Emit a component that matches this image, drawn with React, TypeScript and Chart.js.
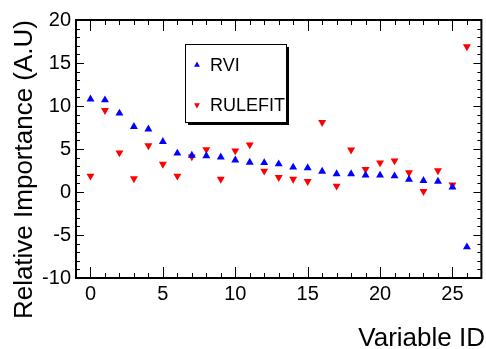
import React, { useEffect, useRef } from "react";
import { Chart, registerables } from "chart.js";

Chart.register(...registerables);

const variableIds = [0, 1, 2, 3, 4, 5, 6, 7, 8, 9, 10, 11, 12, 13, 14, 15, 16, 17, 18, 19, 20, 21, 22, 23, 24, 25, 26];
const rviValues = [10.8, 10.7, 9.15, 7.6, 7.3, 5.85, 4.5, 4.25, 4.2, 4.05, 3.7, 3.45, 3.4, 3.25, 2.87, 2.8, 2.4, 2.1, 2.1, 1.94, 1.94, 1.86, 1.47, 1.32, 1.24, 0.55, -6.4];
const rulefitValues = [1.86, 9.5, 4.57, 1.55, 5.4, 3.25, 1.86, 4.1, 4.95, 1.5, 4.8, 5.5, 2.45, 1.7, 1.5, 1.24, 8.1, 0.7, 4.9, 2.63, 3.4, 3.64, 2.25, 0.08, 2.48, 0.85, 16.9];
const seriesLabels = ["RVI", "RULEFIT"];
const xTitle = "Variable ID";
const yTitle = "Relative Importance (A.U)";
const xRange = [-1, 27];
const yRange = [-10, 20];

const FONT = "'Liberation Sans', Arial, Helvetica, sans-serif";

const rootStyle: any = {
  id: "rootStyle",
  afterDraw(chart: any) {
    const ctx = chart.ctx;
    const a = chart.chartArea;
    const xs = chart.scales.x;
    const ys = chart.scales.y;
    ctx.save();
    ctx.strokeStyle = "#000";
    // ticks
    ctx.lineWidth = 1;
    ctx.beginPath();
    for (let v = Math.ceil(xRange[0]) + 1; v < xRange[1]; v++) {
      const px = Math.round(xs.getPixelForValue(v)) + 0.5;
      const len = v % 5 === 0 ? 11 : 5;
      ctx.moveTo(px, a.bottom);
      ctx.lineTo(px, a.bottom - len);
      ctx.moveTo(px, a.top);
      ctx.lineTo(px, a.top + len);
    }
    for (let v = yRange[0] + 1; v < yRange[1]; v++) {
      const py = Math.round(ys.getPixelForValue(v)) + 0.5;
      const len = v % 5 === 0 ? 8 : 4;
      ctx.moveTo(a.left, py);
      ctx.lineTo(a.left + len, py);
      ctx.moveTo(a.right, py);
      ctx.lineTo(a.right - len, py);
    }
    ctx.stroke();
    // frame
    ctx.lineWidth = 2;
    ctx.strokeRect(a.left, a.top, a.right - a.left, a.bottom - a.top);

    // axis titles
    ctx.fillStyle = "#000";
    ctx.font = `26px ${FONT}`;
    ctx.textAlign = "right";
    ctx.textBaseline = "alphabetic";
    ctx.fillText(xTitle, 485, 346);
    ctx.save();
    ctx.translate(32, 20);
    ctx.rotate(-Math.PI / 2);
    ctx.fillText(yTitle, 0, 0);
    ctx.restore();

    // legend
    const lx = 185, ly = 44, lw = 101, lh = 78;
    ctx.fillStyle = "#000";
    ctx.fillRect(lx + 3, ly + 3, lw, lh);
    ctx.fillStyle = "#fff";
    ctx.fillRect(lx, ly, lw, lh);
    ctx.lineWidth = 1;
    ctx.strokeStyle = "#000";
    ctx.strokeRect(lx + 0.5, ly + 0.5, lw, lh);
    const rows = [65, 105];
    chart.data.datasets.forEach((ds: any, i: number) => {
      const cx = 197, cy = rows[i];
      const r = 3.4;
      const rot = ds.pointRotation === 180 ? Math.PI : 0;
      ctx.fillStyle = ds.backgroundColor;
      ctx.beginPath();
      for (let k = 0; k < 3; k++) {
        const ang = rot + (k * 2 * Math.PI) / 3;
        const px = cx + Math.sin(ang) * r;
        const py = cy - Math.cos(ang) * r;
        if (k === 0) ctx.moveTo(px, py); else ctx.lineTo(px, py);
      }
      ctx.closePath();
      ctx.fill();
      ctx.fillStyle = "#000";
      ctx.font = `18px ${FONT}`;
      ctx.textAlign = "left";
      ctx.textBaseline = "middle";
      ctx.fillText(ds.label, 210, cy + 1);
    });
    ctx.restore();
  },
};

export default function App() {
  const ref = useRef<HTMLCanvasElement>(null);
  useEffect(() => {
    document.body.style.margin = "0";
    const chart = new Chart(ref.current as HTMLCanvasElement, {
      type: "scatter",
      data: {
        datasets: [
          {
            label: seriesLabels[0],
            data: variableIds.map((x, i) => ({ x, y: rviValues[i] })),
            backgroundColor: "#0000ff",
            borderColor: "#0000ff",
            pointStyle: "triangle",
            pointRadius: 4.6,
            pointBorderWidth: 0,
            pointRotation: 0,
          },
          {
            label: seriesLabels[1],
            data: variableIds.map((x, i) => ({ x, y: rulefitValues[i] })),
            backgroundColor: "#ff0000",
            borderColor: "#ff0000",
            pointStyle: "triangle",
            pointRadius: 4.6,
            pointBorderWidth: 0,
            pointRotation: 180,
          },
        ],
      },
      options: {
        responsive: false,
        animation: false,
        layout: { padding: { top: 20, right: 1, left: 0, bottom: 0 } },
        plugins: { legend: { display: false }, tooltip: { enabled: false } },
        scales: {
          x: {
            type: "linear",
            min: xRange[0],
            max: xRange[1],
            grid: { display: false, drawTicks: false },
            border: { display: false },
            ticks: {
              stepSize: 5,
              includeBounds: false,
              padding: 4,
              color: "#000",
              font: { family: FONT, size: 20 },
              maxRotation: 0,
            },
            afterFit: (s: any) => { s.height = 71; },
          },
          y: {
            type: "linear",
            min: yRange[0],
            max: yRange[1],
            grid: { display: false, drawTicks: false },
            border: { display: false },
            ticks: {
              stepSize: 5,
              includeBounds: false,
              padding: 5,
              color: "#000",
              font: { family: FONT, size: 20 },
            },
            afterFit: (s: any) => { s.width = 76; },
          },
        },
      },
      plugins: [rootStyle],
    } as any);
    return () => chart.destroy();
  }, []);
  return (
    <div style={{ position: "fixed", left: 0, top: 0, width: 486, height: 349, background: "#fff" }}>
      <canvas ref={ref} width={486} height={349} style={{ display: "block" }} />
    </div>
  );
}
